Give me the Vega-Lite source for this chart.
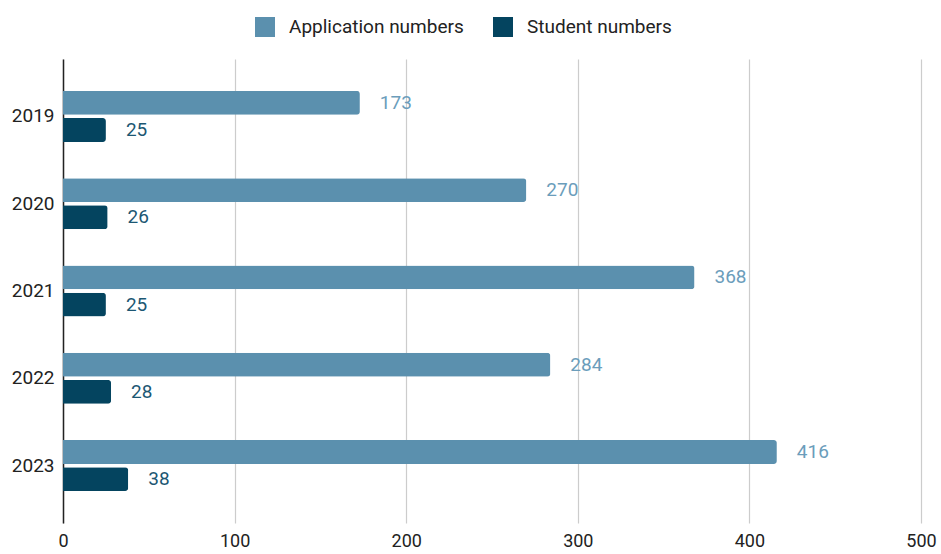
{
  "$schema": "https://vega.github.io/schema/vega-lite/v6.json",
  "autosize": "none",
  "width": 858,
  "height": 464,
  "padding": {"left": 63, "top": 59, "right": 20, "bottom": 31},
  "background": "white",
  "config": {
    "font": "Roboto",
    "view": {"stroke": null}
  },
  "data": {
    "values": [
      {"year": "2019", "series": "Application numbers", "value": 173},
      {"year": "2019", "series": "Student numbers", "value": 25},
      {"year": "2020", "series": "Application numbers", "value": 270},
      {"year": "2020", "series": "Student numbers", "value": 26},
      {"year": "2021", "series": "Application numbers", "value": 368},
      {"year": "2021", "series": "Student numbers", "value": 25},
      {"year": "2022", "series": "Application numbers", "value": 284},
      {"year": "2022", "series": "Student numbers", "value": 28},
      {"year": "2023", "series": "Application numbers", "value": 416},
      {"year": "2023", "series": "Student numbers", "value": 38}
    ]
  },
  "encoding": {
    "y": {
      "field": "year", "type": "nominal", "title": null,
      "scale": {"paddingInner": 0.415, "paddingOuter": 0.366},
      "axis": {"domainColor": "#222", "domainWidth": 1.5, "ticks": false, "labelFontSize": 19, "labelColor": "#222", "labelPadding": 9, "grid": false}
    },
    "x": {
      "field": "value", "type": "quantitative", "title": null,
      "scale": {"domain": [0, 500], "nice": false},
      "axis": {"values": [0, 100, 200, 300, 400, 500], "domain": false, "ticks": false, "grid": true, "gridColor": "#cccccc", "gridWidth": 1.2, "labelFontSize": 18, "labelColor": "#222", "labelPadding": 9, "labelFlush": false}
    },
    "yOffset": {"field": "series", "type": "nominal", "scale": {"paddingInner": 0.12}}
  },
  "layer": [
    {
      "mark": {"type": "bar", "cornerRadiusEnd": 3},
      "encoding": {
        "color": {
          "field": "series", "type": "nominal", "title": null,
          "scale": {"domain": ["Application numbers", "Student numbers"], "range": ["#5b90ae", "#04445f"]},
          "legend": {"orient": "none", "legendX": 192, "legendY": -42, "direction": "horizontal", "symbolType": "square", "symbolSize": 400, "symbolStrokeWidth": 0, "labelFontSize": 19, "labelColor": "#222", "labelLimit": 400, "columnPadding": 29, "labelOffset": 14}
        }
      }
    },
    {
      "mark": {"type": "text", "align": "left", "baseline": "middle", "dx": 20, "fontSize": 19},
      "encoding": {
        "text": {"field": "value", "type": "quantitative"},
        "color": {
          "field": "series", "type": "nominal",
          "scale": {"domain": ["Application numbers", "Student numbers"], "range": ["#6b9dbb", "#1c5773"]},
          "legend": null
        }
      }
    }
  ],
  "resolve": {"scale": {"color": "independent"}}
}
